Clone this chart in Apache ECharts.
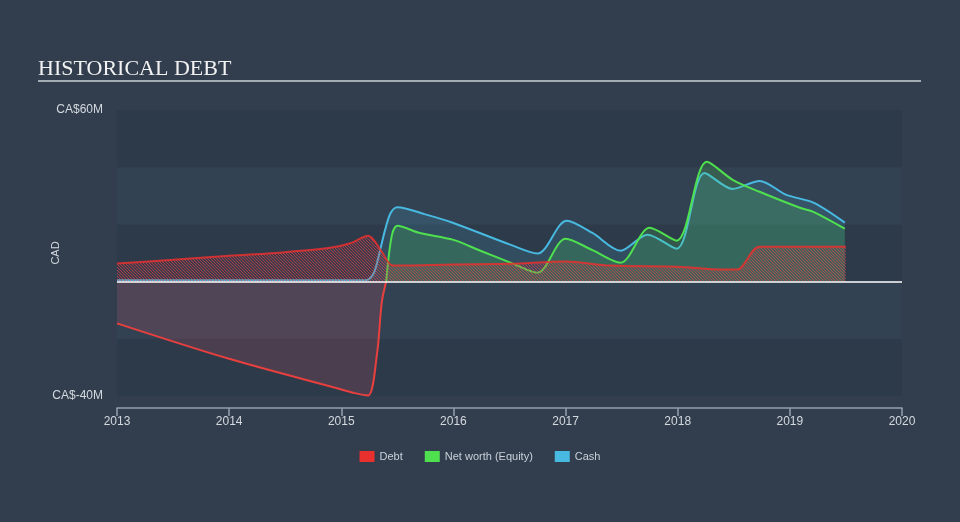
<!DOCTYPE html>
<html>
<head>
<meta charset="utf-8">
<script src="https://cdn.jsdelivr.net/npm/echarts@6/dist/echarts.min.js"></script>
<style>html,body{margin:0;padding:0;background:#323e4e;}#c{width:960px;height:522px;}</style>
</head>
<body>
<div id="c"></div>
<script>
// ---- data (CA$ millions) ----
const xTicks = [2013, 2014, 2015, 2016, 2017, 2018, 2019, 2020];
const debtDates = [2013.0, 2013.5, 2014.0, 2014.5, 2014.9, 2015.08, 2015.24, 2015.36, 2015.46, 2016.0, 2016.5, 2017.0, 2017.4, 2018.0, 2018.4, 2018.53, 2018.73, 2019.5];
const debtValues = [6.3, 7.6, 9.0, 10.3, 11.8, 13.4, 16.0, 10.5, 5.6, 6.0, 6.2, 7.0, 5.6, 5.2, 4.2, 4.2, 12.2, 12.2];
const cashDates = [2013.0, 2015.22, 2015.29, 2015.34, 2015.39, 2015.44, 2015.5, 2015.75, 2016.0, 2016.5, 2016.75, 2017.01, 2017.24, 2017.49, 2017.73, 2017.99, 2018.24, 2018.49, 2018.73, 2018.97, 2019.21, 2019.49];
const cashValues = [0.5, 0.5, 3, 10, 18, 24, 26, 23.5, 20.5, 13, 9.8, 21.3, 17, 10.8, 16.4, 11.5, 38, 32.4, 35.2, 30.3, 27.6, 20.6];
const equityNegDates = [2013.0, 2014.0, 2015.0, 2015.12, 2015.24, 2015.32, 2015.36, 2015.4];
const equityNegValues = [-14.6, -27.0, -37.7, -39.0, -39.8, -24.8, -7.5, 0];
const equityDates = [2015.4, 2015.45, 2015.5, 2015.7, 2016.0, 2016.24, 2016.53, 2016.75, 2017.0, 2017.24, 2017.49, 2017.75, 2017.99, 2018.26, 2018.49, 2018.73, 2019.09, 2019.21, 2019.49];
const equityValues = [0, 16, 19.5, 17, 14.6, 10.8, 6.3, 3.1, 15, 11, 6.6, 18.8, 14.3, 41.9, 35.6, 31.4, 25.8, 24.4, 18.5];
const yMin = -40, yMax = 60;

function pairs(xs, ys) { return xs.map((x, i) => [x, ys[i]]); }

// hatch pattern for debt area
const pc = document.createElement('canvas');
pc.width = 3; pc.height = 3;
const g = pc.getContext('2d');
g.fillStyle = 'rgba(200,60,70,0.12)';
g.fillRect(0, 0, 3, 3);
g.strokeStyle = 'rgba(215,70,75,0.65)';
g.lineWidth = 1;
g.beginPath();
g.moveTo(0, 0); g.lineTo(3, 3);
g.moveTo(-1, 2); g.lineTo(1, 4);
g.moveTo(2, -1); g.lineTo(4, 1);
g.stroke();

const RED = '#e8302f', GREEN = '#4fe04f', BLUE = '#48b9e0';
const chart = echarts.init(document.getElementById('c'));
chart.setOption({
  backgroundColor: '#323e4e',
  animation: false,
  title: {
    text: 'HISTORICAL DEBT', left: 33, top: 53,
    textStyle: { fontFamily: 'Liberation Serif', fontSize: 22, fontWeight: 'normal', color: '#f2f2f2' }
  },
  graphic: [{
    type: 'line', shape: { x1: 38, y1: 81, x2: 921, y2: 81 },
    style: { stroke: '#a3abb3', lineWidth: 2 }, silent: true
  }],
  legend: {
    bottom: 55, left: 'center', itemWidth: 15, itemHeight: 11, itemGap: 22,
    textStyle: { color: '#c9d0d8', fontSize: 11, fontFamily: 'Liberation Sans' },
    data: [
      { name: 'Debt', itemStyle: { color: RED } },
      { name: 'Net worth (Equity)', itemStyle: { color: GREEN } },
      { name: 'Cash', itemStyle: { color: BLUE } }
    ],
    icon: 'rect'
  },
  grid: { left: 117, right: 58, top: 110, bottom: 126 },
  xAxis: {
    type: 'value', min: 2013, max: 2020, interval: 1, offset: 12,
    axisLine: { show: true, onZero: false, lineStyle: { color: '#93a0ad', width: 1.5 } },
    axisTick: { show: true, length: 8, inside: false, lineStyle: { color: '#93a0ad', width: 1.5 } },
    axisLabel: { color: '#d4d9df', fontSize: 12, margin: 8, fontFamily: 'Liberation Sans', formatter: v => xTicks.includes(v) ? String(v) : '' },
    splitLine: { show: false }
  },
  yAxis: {
    type: 'value', min: yMin, max: yMax, interval: 20,
    name: 'CAD', nameLocation: 'middle', nameGap: 56, nameRotate: 90, nameMoveOverlap: false,
    nameTextStyle: { color: '#d4d9df', fontSize: 11, fontFamily: 'Liberation Sans' },
    axisLine: { show: false }, axisTick: { show: false },
    axisLabel: { color: '#d4d9df', fontSize: 12, margin: 14, fontFamily: 'Liberation Sans',
      formatter: v => (v === yMin || v === yMax) ? 'CA$' + v + 'M' : '' },
    splitLine: { show: false },
    splitArea: { show: true, areaStyle: { color: ['#2d3a49', '#334253'] } }
  },
  series: [
    {
      name: 'Cash', type: 'line', data: pairs(cashDates, cashValues), z: 2,
      smooth: 0.3, symbol: 'none',
      lineStyle: { color: BLUE, width: 2 }, itemStyle: { color: BLUE },
      areaStyle: { color: 'rgba(75,184,224,0.22)', origin: 0 }
    },
    {
      name: 'Net worth (Equity)', type: 'line', data: pairs(equityDates, equityValues), z: 3,
      smooth: 0.3, symbol: 'none',
      lineStyle: { color: GREEN, width: 2 }, itemStyle: { color: GREEN },
      areaStyle: { color: 'rgba(80,224,80,0.25)', origin: 0 }
    },
    {
      name: 'equityNeg', type: 'line', data: pairs(equityNegDates, equityNegValues), z: 3,
      smooth: 0.3, symbol: 'none',
      lineStyle: { color: '#e8403f', width: 2 }, itemStyle: { color: '#e8403f' },
      areaStyle: { color: 'rgba(215,85,100,0.25)', origin: 0 }
    },
    {
      name: 'Debt', type: 'line', data: pairs(debtDates, debtValues), z: 4,
      smooth: 0.3, symbol: 'none',
      lineStyle: { color: RED, width: 2, opacity: 0.85 }, itemStyle: { color: RED },
      areaStyle: { color: { image: pc, repeat: 'repeat' }, origin: 0, opacity: 1 },
      markLine: {
        silent: true, symbol: 'none', label: { show: false },
        lineStyle: { color: '#ffffff', width: 1.5, type: 'solid' },
        data: [{ yAxis: 0 }]
      }
    }
  ]
});
</script>
</body>
</html>
